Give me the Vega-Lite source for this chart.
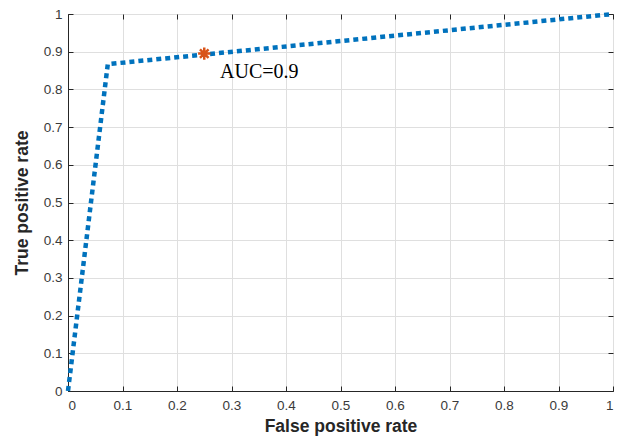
{
  "$schema": "https://vega.github.io/schema/vega-lite/v6.json",
  "width": 545,
  "height": 377,
  "autosize": "none",
  "padding": {"left": 68, "top": 14, "right": 12, "bottom": 47},
  "background": "white",
  "config": {
    "view": {"stroke": "#262626", "strokeWidth": 1},
    "axis": {
      "labelFont": "Liberation Sans",
      "labelFontSize": 13.5,
      "labelColor": "#3a3a3a",
      "titleFont": "Liberation Sans",
      "titleFontSize": 17.5,
      "titleFontWeight": "bold",
      "titleColor": "#262626",
      "domainColor": "#262626",
      "tickColor": "#262626",
      "gridColor": "#dfdfdf",
      "gridWidth": 1
    }
  },
  "datasets": {
    "roc": [
      {"fpr": 0, "tpr": 0},
      {"fpr": 0.073, "tpr": 0.867},
      {"fpr": 1, "tpr": 1}
    ],
    "opt": [{"fpr": 0.25, "tpr": 0.895, "label": "AUC=0.9", "tx": 0.279, "ty": 0.847}]
  },
  "layer": [
    {
      "data": {"name": "roc"},
      "mark": {"type": "line", "color": "#0072BD", "strokeWidth": 4.5, "strokeDash": [5, 4], "strokeCap": "butt"},
      "encoding": {
        "x": {"field": "fpr", "type": "quantitative", "scale": {"domain": [0, 1], "nice": false, "zero": false},
          "axis": {"title": "False positive rate", "values": [0,0.1,0.2,0.3,0.4,0.5,0.6,0.7,0.8,0.9,1], "tickSize": -5, "labelPadding": 12, "titlePadding": 6, "labelExpr": "datum.value == 0 ? '0' : datum.value == 1 ? '1' : format(datum.value, '.1f')"}},
        "y": {"field": "tpr", "type": "quantitative", "scale": {"domain": [0, 1], "nice": false, "zero": false},
          "axis": {"title": "True positive rate", "values": [0,0.1,0.2,0.3,0.4,0.5,0.6,0.7,0.8,0.9,1], "tickSize": -5, "labelPadding": 11, "titlePadding": 12, "labelExpr": "datum.value == 0 ? '0' : datum.value == 1 ? '1' : format(datum.value, '.1f')"}}
      }
    },
    {
      "data": {"name": "opt"},
      "mark": {"type": "point", "shape": "M0,-1L0,1M-1,0L1,0M-0.7,-0.7L0.7,0.7M-0.7,0.7L0.7,-0.7", "size": 150, "color": "#D95319", "strokeWidth": 2.5, "filled": false, "opacity": 1},
      "encoding": {
        "x": {"field": "fpr", "type": "quantitative", "axis": {"orient": "top", "title": null, "labels": false, "grid": false, "domain": false, "tickSize": -5, "values": [0,0.1,0.2,0.3,0.4,0.5,0.6,0.7,0.8,0.9,1]}},
        "y": {"field": "tpr", "type": "quantitative", "axis": {"orient": "right", "title": null, "labels": false, "grid": false, "domain": false, "tickSize": -5, "values": [0,0.1,0.2,0.3,0.4,0.5,0.6,0.7,0.8,0.9,1]}}
      }
    },
    {
      "data": {"name": "opt"},
      "mark": {"type": "text", "font": "Liberation Serif", "fontSize": 20, "align": "left", "baseline": "middle", "color": "black"},
      "encoding": {
        "x": {"field": "tx", "type": "quantitative", "axis": null},
        "y": {"field": "ty", "type": "quantitative", "axis": null},
        "text": {"field": "label"}
      }
    }
  ],
  "resolve": {"axis": {"x": "independent", "y": "independent"}}
}
